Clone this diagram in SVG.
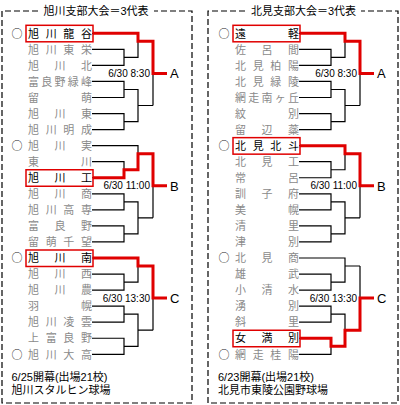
<svg xmlns="http://www.w3.org/2000/svg" xmlns:xlink="http://www.w3.org/1999/xlink" width="400" height="405" viewBox="0 0 400 405">
<style>
.frame{fill:none;stroke:#000;stroke-width:1.2;stroke-dasharray:6 3}
.title{font-family:"Liberation Sans","Noto Sans CJK JP",sans-serif;font-size:11px;fill:#000;text-anchor:middle}
.nm{font-family:"Noto Sans CJK JP",sans-serif;font-size:11px;fill:#8a8a8a}
.nm.win{fill:#000}
.seed{font-family:"Noto Sans CJK JP",sans-serif;font-size:11px;fill:#222}
.box{fill:none;stroke:#e00000;stroke-width:1.5}
.br{fill:none;stroke:#000;stroke-width:1.2}
.rd{fill:none;stroke:#e00000;stroke-width:3}
.dt{font-family:"Liberation Sans",sans-serif;font-size:10px;text-anchor:end;fill:#000}
.lt{font-family:"Liberation Sans",sans-serif;font-size:13px;fill:#000}
.ft{font-family:"Liberation Sans","Noto Sans CJK JP",sans-serif;font-size:11px;fill:#000}
</style>
<defs>
<path id="bk" class="br" d="M92 33.3H138V57.4H124M92 49.35H124V65.4H92M138 41.3H153M92 81.45H124V97.5H92M124 89.5H138V121.6H124M92 113.55H124V129.6H92M138 105.5H153M153 41.3V105.5M153 73.4H167"/>
</defs>
<rect width="400" height="405" fill="#fff"/>

<g id="frames">
<path class="frame" d="M38 11H2V403H192V11H154"/>
<path class="frame" d="M245 11H208V403H398V11H361"/>
<text class="title" x="96" y="14.5">旭川支部大会＝3代表</text>
<text class="title" x="303.5" y="14.5">北見支部大会＝3代表</text>
</g>

<g id="connectors">
<use xlink:href="#bk"/>
<use xlink:href="#bk" transform="translate(0 112.35)"/>
<use xlink:href="#bk" transform="translate(0 224.7)"/>
<use xlink:href="#bk" transform="translate(207 0)"/>
<use xlink:href="#bk" transform="translate(207 112.35)"/>
<use xlink:href="#bk" transform="translate(207 224.7)"/>
<path class="rd" d="M93 33.3H138V41.3H153V73.4H167"/>
<path class="rd" transform="translate(0 112.35)" d="M93 65.4H124V57.4H138V41.3H153V73.4H167"/>
<path class="rd" transform="translate(0 224.7)" d="M93 33.3H138V41.3H153V73.4H167"/>
<path class="rd" transform="translate(207 0)" d="M93 33.3H138V41.3H153V73.4H167"/>
<path class="rd" transform="translate(207 112.35)" d="M93 33.3H138V41.3H153V73.4H167"/>
<path class="rd" transform="translate(207 224.7)" d="M93 113.55H124V121.6H138V105.5H153V73.4H167"/>
</g>

<g id="labels">
<text class="dt" x="150" y="77">6/30 8:30</text>
<text class="lt" x="170" y="78.1">A</text>
<text class="dt" x="150" y="189.4">6/30 11:00</text>
<text class="lt" x="170" y="190.5">B</text>
<text class="dt" x="150" y="301.7">6/30 13:30</text>
<text class="lt" x="170" y="302.8">C</text>
<text class="dt" x="357" y="77">6/30 8:30</text>
<text class="lt" x="377" y="78.1">A</text>
<text class="dt" x="357" y="189.4">6/30 11:00</text>
<text class="lt" x="377" y="190.5">B</text>
<text class="dt" x="357" y="301.7">6/30 13:30</text>
<text class="lt" x="377" y="302.8">C</text>
</g>

<g id="L1"><text class="seed" x="11.5" y="37.5">○</text><rect class="box" x="26" y="25.3" width="67" height="16.5"/><text class="nm win" x="28" y="37.5" textLength="64" lengthAdjust="spacing">旭川龍谷</text></g>
<g id="L2"><text class="nm" x="28" y="53.55" textLength="64" lengthAdjust="spacing">旭川東栄</text></g>
<g id="L3"><text class="nm" x="28" y="69.6" textLength="64" lengthAdjust="spacing">旭川北</text></g>
<g id="L4"><text class="nm" x="28" y="85.65" textLength="64" lengthAdjust="spacing">富良野緑峰</text></g>
<g id="L5"><text class="nm" x="28" y="101.7" textLength="64" lengthAdjust="spacing">留萌</text></g>
<g id="L6"><text class="nm" x="28" y="117.75" textLength="64" lengthAdjust="spacing">旭川東</text></g>
<g id="L7"><text class="nm" x="28" y="133.8" textLength="64" lengthAdjust="spacing">旭川明成</text></g>
<g id="L8"><text class="seed" x="11.5" y="149.85">○</text><text class="nm" x="28" y="149.85" textLength="64" lengthAdjust="spacing">旭川実</text></g>
<g id="L9"><text class="nm" x="28" y="165.9" textLength="64" lengthAdjust="spacing">東川</text></g>
<g id="L10"><rect class="box" x="26" y="169.75" width="67" height="16.5"/><text class="nm win" x="28" y="181.95" textLength="64" lengthAdjust="spacing">旭川工</text></g>
<g id="L11"><text class="nm" x="28" y="198" textLength="64" lengthAdjust="spacing">旭川商</text></g>
<g id="L12"><text class="nm" x="28" y="214.05" textLength="64" lengthAdjust="spacing">旭川高専</text></g>
<g id="L13"><text class="nm" x="28" y="230.1" textLength="64" lengthAdjust="spacing">富良野</text></g>
<g id="L14"><text class="nm" x="28" y="246.15" textLength="64" lengthAdjust="spacing">留萌千望</text></g>
<g id="L15"><text class="seed" x="11.5" y="262.2">○</text><rect class="box" x="26" y="250" width="67" height="16.5"/><text class="nm win" x="28" y="262.2" textLength="64" lengthAdjust="spacing">旭川南</text></g>
<g id="L16"><text class="nm" x="28" y="278.25" textLength="64" lengthAdjust="spacing">旭川西</text></g>
<g id="L17"><text class="nm" x="28" y="294.3" textLength="64" lengthAdjust="spacing">旭川農</text></g>
<g id="L18"><text class="nm" x="28" y="310.35" textLength="64" lengthAdjust="spacing">羽幌</text></g>
<g id="L19"><text class="nm" x="28" y="326.4" textLength="64" lengthAdjust="spacing">旭川凌雲</text></g>
<g id="L20"><text class="nm" x="28" y="342.45" textLength="64" lengthAdjust="spacing">上富良野</text></g>
<g id="L21"><text class="seed" x="11.5" y="358.5">○</text><text class="nm" x="28" y="358.5" textLength="64" lengthAdjust="spacing">旭川大高</text></g>

<g id="R1"><text class="seed" x="218.5" y="37.5">○</text><rect class="box" x="233" y="25.3" width="67" height="16.5"/><text class="nm win" x="235" y="37.5" textLength="64" lengthAdjust="spacing">遠軽</text></g>
<g id="R2"><text class="nm" x="235" y="53.55" textLength="64" lengthAdjust="spacing">佐呂間</text></g>
<g id="R3"><text class="nm" x="235" y="69.6" textLength="64" lengthAdjust="spacing">北見柏陽</text></g>
<g id="R4"><text class="nm" x="235" y="85.65" textLength="64" lengthAdjust="spacing">北見緑陵</text></g>
<g id="R5"><text class="nm" x="235" y="101.7" textLength="64" lengthAdjust="spacing">網走南ヶ丘</text></g>
<g id="R6"><text class="nm" x="235" y="117.75" textLength="64" lengthAdjust="spacing">紋別</text></g>
<g id="R7"><text class="nm" x="235" y="133.8" textLength="64" lengthAdjust="spacing">留辺蘂</text></g>
<g id="R8"><text class="seed" x="218.5" y="149.85">○</text><rect class="box" x="233" y="137.65" width="67" height="16.5"/><text class="nm win" x="235" y="149.85" textLength="64" lengthAdjust="spacing">北見北斗</text></g>
<g id="R9"><text class="nm" x="235" y="165.9" textLength="64" lengthAdjust="spacing">北見工</text></g>
<g id="R10"><text class="nm" x="235" y="181.95" textLength="64" lengthAdjust="spacing">常呂</text></g>
<g id="R11"><text class="nm" x="235" y="198" textLength="64" lengthAdjust="spacing">訓子府</text></g>
<g id="R12"><text class="nm" x="235" y="214.05" textLength="64" lengthAdjust="spacing">美幌</text></g>
<g id="R13"><text class="nm" x="235" y="230.1" textLength="64" lengthAdjust="spacing">清里</text></g>
<g id="R14"><text class="nm" x="235" y="246.15" textLength="64" lengthAdjust="spacing">津別</text></g>
<g id="R15"><text class="seed" x="218.5" y="262.2">○</text><text class="nm" x="235" y="262.2" textLength="64" lengthAdjust="spacing">北見商</text></g>
<g id="R16"><text class="nm" x="235" y="278.25" textLength="64" lengthAdjust="spacing">雄武</text></g>
<g id="R17"><text class="nm" x="235" y="294.3" textLength="64" lengthAdjust="spacing">小清水</text></g>
<g id="R18"><text class="nm" x="235" y="310.35" textLength="64" lengthAdjust="spacing">湧別</text></g>
<g id="R19"><text class="nm" x="235" y="326.4" textLength="64" lengthAdjust="spacing">斜里</text></g>
<g id="R20"><rect class="box" x="233" y="330.25" width="67" height="16.5"/><text class="nm win" x="235" y="342.45" textLength="64" lengthAdjust="spacing">女満別</text></g>
<g id="R21"><text class="seed" x="218.5" y="358.5">○</text><text class="nm" x="235" y="358.5" textLength="64" lengthAdjust="spacing">網走桂陽</text></g>

<g id="footers">
<text class="ft" x="11.5" y="381">6/25開幕(出場21校)</text>
<text class="ft" x="11.5" y="394">旭川スタルヒン球場</text>
<text class="ft" x="218" y="381">6/23開幕(出場21校)</text>
<text class="ft" x="218" y="394">北見市東陵公園野球場</text>
</g>
</svg>
